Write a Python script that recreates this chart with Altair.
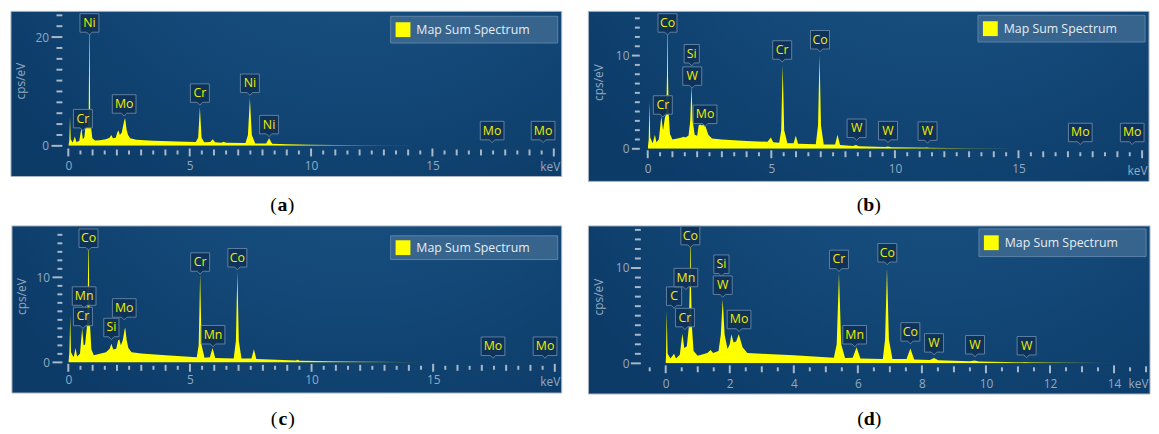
import altair as alt
import pandas as pd

# ---------------- data ----------------
# spectra: (keV, cps/eV)
A_SPEC = [(0.00,0),(0.04,1.0),(0.07,5.3),(0.10,1.2),(0.18,0.6),(0.27,1.7),(0.33,0.7),(0.45,0.9),
          (0.54,3.3),(0.60,1.2),(0.66,1.6),(0.70,3.3),(0.80,3.4),(0.84,6.0),(0.87,25),(0.90,6.0),
          (0.94,3.3),(0.99,1.4),(1.10,1.0),(1.30,1.05),(1.55,1.2),(1.70,1.5),(1.77,2.0),(1.84,1.4),
          (1.95,1.5),(2.03,2.6),(2.07,2.8),(2.12,2.0),(2.20,2.4),(2.30,4.6),(2.34,5.1),(2.40,3.0),
          (2.46,2.0),(2.55,1.4),(2.80,1.1),(3.50,0.95),(4.50,0.8),(5.25,0.7),(5.35,1.5),(5.42,7.1),
          (5.49,1.5),(5.60,0.65),(5.85,0.7),(5.95,1.2),(6.05,0.65),(6.30,0.55),(6.40,0.75),(6.50,0.55),
          (7.30,0.5),(7.40,2.0),(7.48,8.8),(7.56,2.0),(7.70,0.45),(8.15,0.45),(8.27,1.4),(8.40,0.4),
          (9.00,0.3),(10.0,0.22),(11.0,0.15),(12.0,0.1),(13.0,0.07),(14.0,0.04),(14.1,0)]
B_SPEC = [(0.00,0),(0.04,1.0),(0.07,5.1),(0.10,1.2),(0.20,0.6),(0.29,1.5),(0.35,0.7),(0.45,1.0),
          (0.55,3.5),(0.62,2.0),(0.70,3.4),(0.75,3.7),(0.78,8.0),(0.80,14.5),(0.82,8.0),(0.85,3.7),
          (0.90,1.6),(1.00,1.0),(1.20,1.1),(1.38,1.2),(1.45,1.3),(1.52,1.2),(1.65,1.4),(1.72,3.0),
          (1.77,6.8),(1.82,3.0),(1.90,1.5),(2.00,1.4),(2.06,2.5),(2.12,2.6),(2.20,2.5),(2.27,2.7),
          (2.35,2.3),(2.45,1.5),(2.60,1.1),(3.00,1.0),(4.00,0.85),(4.85,0.75),(4.98,1.2),(5.08,0.7),
          (5.32,0.65),(5.40,2.0),(5.46,9.0),(5.52,2.0),(5.65,0.6),(5.90,0.6),(5.99,1.4),(6.08,0.55),
          (6.80,0.5),(6.89,2.5),(6.95,10.1),(7.01,2.5),(7.12,0.45),(7.58,0.45),(7.68,1.5),(7.78,0.4),
          (8.30,0.3),(8.42,0.4),(8.55,0.28),(9.60,0.2),(9.72,0.25),(9.85,0.18),(11.2,0.13),(11.3,0.16),
          (11.4,0.12),(13.0,0.06),(14.5,0.02),(14.6,0)]
C_SPEC = [(0.00,0),(0.04,1.0),(0.08,5.4),(0.11,1.2),(0.22,0.6),(0.30,1.7),(0.36,0.7),(0.48,1.0),
          (0.57,4.0),(0.63,2.0),(0.69,2.1),(0.76,4.0),(0.80,8.0),(0.83,15.5),(0.86,8.0),(0.90,4.0),
          (0.95,1.5),(1.05,0.85),(1.30,1.0),(1.55,1.2),(1.70,1.6),(1.77,2.2),(1.85,1.5),(1.97,1.6),
          (2.05,2.6),(2.10,2.7),(2.16,2.0),(2.24,2.6),(2.31,3.8),(2.34,4.1),(2.40,2.6),(2.47,1.7),
          (2.60,1.2),(3.00,1.05),(4.00,0.85),(5.28,0.6),(5.36,2.0),(5.42,10.5),(5.48,2.0),(5.60,0.55),
          (5.82,0.6),(5.93,1.7),(6.04,0.5),(6.80,0.45),(6.89,2.5),(6.95,10.7),(7.01,2.5),(7.12,0.45),
          (7.53,0.45),(7.63,1.55),(7.73,0.4),(9.35,0.22),(9.43,0.3),(9.51,0.2),(11.0,0.12),(13.0,0.06),
          (14.3,0.02),(14.4,0)]
D_SPEC = [(0.00,0),(0.01,1.0),(0.03,5.5),(0.06,1.0),(0.15,0.5),(0.26,1.0),(0.32,0.5),(0.44,0.9),
          (0.52,3.1),(0.58,1.6),(0.66,1.8),(0.72,3.75),(0.75,8.0),(0.77,14.5),(0.79,8.0),(0.82,3.75),
          (0.87,1.3),(1.00,0.8),(1.30,1.1),(1.40,1.4),(1.48,1.1),(1.65,1.3),(1.72,3.0),(1.78,6.7),
          (1.84,3.0),(1.93,1.5),(2.00,2.0),(2.05,3.05),(2.12,2.2),(2.20,2.3),(2.28,3.05),(2.33,2.5),
          (2.40,1.7),(2.55,1.1),(3.00,1.0),(4.00,0.85),(5.25,0.6),(5.34,2.0),(5.41,9.5),(5.48,2.0),
          (5.60,0.55),(5.84,0.6),(5.96,1.7),(6.08,0.5),(6.78,0.45),(6.85,2.5),(6.91,10.0),(6.97,2.5),
          (7.08,0.45),(7.52,0.45),(7.64,1.55),(7.76,0.4),(8.25,0.35),(8.38,0.55),(8.51,0.32),(9.50,0.22),
          (9.64,0.3),(9.78,0.2),(11.1,0.12),(11.23,0.15),(11.36,0.11),(13.0,0.06),(14.4,0.02),(14.5,0)]

# peak labels: element, keV, label-centre height (cps/eV)
A_LBL = ["Ni", "Cr", "Mo", "Cr", "Ni", "Ni", "Mo", "Mo"]
A_LBL_E = [0.87, 0.60, 2.30, 5.42, 7.48, 8.27, 17.46, 19.56]
A_LBL_C = [22.6, 5.0, 7.7, 9.7, 11.5, 3.9, 2.8, 2.8]
B_LBL = ["Co", "Si", "W", "Cr", "Mo", "Cr", "Co", "W", "W", "W", "Mo", "Mo"]
B_LBL_E = [0.80, 1.78, 1.80, 0.61, 2.32, 5.44, 6.97, 8.45, 9.72, 11.32, 17.5, 19.6]
B_LBL_C = [13.5, 10.2, 7.8, 4.7, 3.7, 10.6, 11.7, 2.2, 1.95, 1.9, 1.75, 1.75]
C_LBL = ["Co", "Mn", "Cr", "Si", "Mo", "Cr", "Mn", "Co", "Mo", "Mo"]
C_LBL_E = [0.83, 0.65, 0.60, 1.77, 2.30, 5.42, 5.95, 6.95, 17.46, 19.6]
C_LBL_C = [14.6, 7.8, 5.4, 4.1, 6.4, 11.8, 3.25, 12.3, 1.9, 1.9]
D_LBL = ["C", "Mn", "Cr", "Co", "Si", "W", "Mo", "Cr", "Mn", "Co", "Co", "W", "W", "W"]
D_LBL_E = [0.26, 0.63, 0.60, 0.77, 1.74, 1.78, 2.29, 5.41, 5.90, 6.92, 7.64, 8.38, 9.66, 11.27]
D_LBL_C = [7.05, 9.0, 4.8, 13.4, 10.4, 8.2, 4.6, 10.9, 3.0, 11.6, 3.3, 2.15, 1.95, 1.85]

# axis tick values and labels
X_TICKS_20 = [i / 2 for i in range(0, 41)]
X_TICKS_15 = [i / 2 for i in range(-1, 31)]
X_LABELS_20 = [0, 5, 10, 15]
X_LABELS_15 = [0, 2, 4, 6, 8, 10, 12, 14]
Y_TICKS_A = list(range(0, 25, 2))
Y_TICKS_B = list(range(0, 15))
Y_TICKS_C = list(range(0, 16))
Y_TICKS_D = list(range(0, 15))
Y_LABELS_A = [0, 20]
Y_LABELS_BCD = [0, 10]
LEGEND_TEXT = "Map Sum Spectrum"

# ---------------- style ----------------
FONT = "Open Sans"
LAB = "#93a9c0"
TICK = "#a9b9c9"
BOX_FILL = {"gradient": "radial", "x1": 0.62, "y1": 0.0, "r1": 0.0, "x2": 0.62, "y2": 0.0, "r2": 0.8,
            "stops": [{"offset": 0, "color": "#215b8b"}, {"offset": 0.5, "color": "#154b7b"},
                      {"offset": 1, "color": "#0c3b68"}]}
SPEC_FILL = {"gradient": "linear", "x1": 0, "y1": 0, "x2": 1, "y2": 0,
             "stops": [{"offset": 0, "color": "#ffff00"}, {"offset": 0.68, "color": "#ffff00"},
                       {"offset": 1, "color": "#3d6e52"}]}
PATHS = {
    "L": "M-1,-0.78L1,-0.78L1,0.78L0.22,0.78L0,1.02L-0.22,0.78L-1,0.78Z",
    "M": "M-0.8,-0.78L0.8,-0.78L0.8,0.78L0.22,0.78L0,1.02L-0.22,0.78L-0.8,0.78Z",
    "S": "M-0.64,-0.78L0.64,-0.78L0.64,0.78L0.22,0.78L0,1.02L-0.22,0.78L-0.64,0.78Z",
}
KIND = {"Mo": "L", "Mn": "L", "Co": "M", "Cr": "M", "Ni": "M", "W": "M", "Si": "S", "C": "S"}


def xkind20(v):
    if v % 5 == 0:
        return 8
    if v % 1 == 0:
        return 6
    return 4


def xkind15(v):
    if v % 2 == 0:
        return 8
    if v % 1 == 0:
        return 6
    return 4


def panel(p):
    W, H = p["W"], p["H"]
    L, R, T, B = p["ext"]
    one = pd.DataFrame({"k": [0]})
    xs = alt.Scale(domain=p["xdom"], nice=False, zero=False)
    ys = alt.Scale(domain=p["ydom"], nice=False, zero=False)
    xaxis = alt.Axis(values=p["xlabels"], ticks=False, tickSize=0, domain=False, grid=False,
                     labelColor=LAB, labelFont=FONT, labelFontSize=12, labelPadding=p["xlp"],
                     labelFlush=False, title="keV", titleX=W + R - 2, titleY=p["kevy"],
                     titleAlign="right", titleBaseline="top", titleColor=LAB, titleFont=FONT,
                     titleFontSize=12, titleFontWeight="normal", zindex=1)
    yaxis = alt.Axis(values=p["ylabels"], ticks=False, tickSize=0, domain=False, grid=False,
                     labelColor=LAB, labelFont=FONT, labelFontSize=12, labelPadding=p["ylp"],
                     title="cps/eV", titleX=p["ytx"], titleY=H / 2, titleAngle=270,
                     titleAlign="center", titleBaseline="middle", titleColor=LAB, titleFont=FONT,
                     titleFontSize=12, titleFontWeight="normal", zindex=1)

    def X():
        return alt.X("E:Q", scale=xs, axis=xaxis)

    def Y():
        return alt.Y("C:Q", scale=ys, axis=yaxis)

    layers = []
    layers.append(alt.Chart(one).mark_rect(fill=BOX_FILL, stroke="#aab6c2", strokeWidth=1).encode(
        x=alt.value(-L), x2=alt.value(W + R), y=alt.value(-T), y2=alt.value(H + B)))

    # x ticks
    xt = pd.DataFrame({"E": p["xticks"]})
    xt["len"] = [p["xkind"](v) for v in p["xticks"]]
    c = p["xtc"]
    for ln in sorted(set(xt["len"])):
        layers.append(alt.Chart(xt[xt["len"] == ln]).mark_rule(color=TICK, strokeWidth=2).encode(
            x=X(), y=alt.value(H + c - ln / 2), y2=alt.value(H + c + ln / 2)))
    # y ticks
    yt = pd.DataFrame({"C": p["yticks"]})
    yt["maj"] = [v in p["ylabels"] for v in p["yticks"]]
    e = p["ytend"]
    layers.append(alt.Chart(yt[yt["maj"]]).mark_rule(color=TICK, strokeWidth=2).encode(
        y=Y(), x=alt.value(-e - p["ytmaj"]), x2=alt.value(-e)))
    layers.append(alt.Chart(yt[~yt["maj"]]).mark_rule(color=TICK, strokeWidth=2).encode(
        y=Y(), x=alt.value(-e - p["ytmin"]), x2=alt.value(-e)))

    # spectrum
    spec = pd.DataFrame(p["spec"], columns=["E", "C"])
    layers.append(alt.Chart(spec).mark_area(clip=True, fill=SPEC_FILL, interpolate="linear").encode(
        x=X(), y=Y()))

    # legend box
    lr = W + R - 4
    ll = lr - 169
    lt = p["legtop"]
    lh = p["legh"]
    layers.append(alt.Chart(one).mark_rect(fill="#3e6a92", fillOpacity=0.85, stroke="#5a82a8",
                                           strokeWidth=1).encode(
        x=alt.value(ll), x2=alt.value(lr), y=alt.value(lt), y2=alt.value(lt + lh)))
    layers.append(alt.Chart(one).mark_square(size=225, color="#ffff00", opacity=1).encode(
        x=alt.value(ll + 12.5), y=alt.value(lt + lh / 2)))
    layers.append(alt.Chart(one).mark_text(text=LEGEND_TEXT, font=FONT, fontSize=12.5, color="#e6edf3",
                                           align="left", baseline="middle").encode(
        x=alt.value(ll + 26), y=alt.value(lt + lh / 2)))

    # peak labels
    lbl = pd.DataFrame({"E": p["le"], "C": p["lc"], "name": p["names"]})
    lbl["kind"] = [KIND[n] for n in p["names"]]
    layers.append(alt.Chart(lbl).mark_point(filled=True, fill="#0e3156", fillOpacity=0.92,
                                            stroke="#5f81a2", strokeWidth=1, size=576, opacity=1).encode(
        x=X(), y=Y(),
        shape=alt.Shape("kind:N", scale=alt.Scale(domain=["L", "M", "S"],
                                                  range=[PATHS["L"], PATHS["M"], PATHS["S"]]),
                        legend=None)))
    layers.append(alt.Chart(lbl).mark_text(font=FONT, fontSize=12.5, color="#f0f000",
                                           align="center", baseline="middle").encode(
        x=X(), y=Y(), text="name:N"))

    # caption
    cx = (W + R - L) / 2 + p["capdx"]
    cy = p["capy"]
    layers.append(alt.Chart(one).mark_text(text="(", font="Liberation Serif", fontSize=20, color="#000000",
                                           align="right", baseline="alphabetic").encode(
        x=alt.value(cx - 5.5), y=alt.value(cy)))
    layers.append(alt.Chart(one).mark_text(text=p["cap"], font="Liberation Serif", fontSize=20,
                                           fontWeight="bold", color="#000000", align="center",
                                           baseline="alphabetic").encode(
        x=alt.value(cx), y=alt.value(cy)))
    layers.append(alt.Chart(one).mark_text(text=")", font="Liberation Serif", fontSize=20, color="#000000",
                                           align="left", baseline="alphabetic").encode(
        x=alt.value(cx + 5.5), y=alt.value(cy)))

    return alt.layer(*layers).properties(width=W, height=H)


PA = dict(spec=A_SPEC, names=A_LBL, le=A_LBL_E, lc=A_LBL_C, xdom=[0, 20], ydom=[0, 24], W=491, H=132,
          ext=(58, 8, 4, 31), xticks=X_TICKS_20, xkind=xkind20, xtc=6.7, xlabels=X_LABELS_20, xlp=15,
          kevy=16, ylabels=Y_LABELS_A, yticks=Y_TICKS_A, ytend=6, ytmaj=11, ytmin=6, ylp=20, ytx=-48,
          legtop=1, legh=27, cap="a", capy=198, capdx=-4)
PB = dict(spec=B_SPEC, names=B_LBL, le=B_LBL_E, lc=B_LBL_C, xdom=[0, 20], ydom=[0, 14.32], W=500, H=135,
          ext=(60, 7, 4, 33), xticks=X_TICKS_20, xkind=xkind20, xtc=5.5, xlabels=X_LABELS_20, xlp=15,
          kevy=17, ylabels=Y_LABELS_BCD, yticks=Y_TICKS_B, ytend=8, ytmaj=8, ytmin=5, ylp=19, ytx=-50,
          legtop=0, legh=27, cap="b", capy=198, capdx=0)
PC = dict(spec=C_SPEC, names=C_LBL, le=C_LBL_E, lc=C_LBL_C, xdom=[0, 20], ydom=[0, 15.58], W=492, H=134,
          ext=(57, 7, 4, 31), xticks=X_TICKS_20, xkind=xkind20, xtc=5.5, xlabels=X_LABELS_20, xlp=12,
          kevy=14, ylabels=Y_LABELS_BCD, yticks=Y_TICKS_C, ytend=6, ytmaj=10, ytmin=5, ylp=19, ytx=-47,
          legtop=6, legh=24, cap="c", capy=197, capdx=-4)
PD = dict(spec=D_SPEC, names=D_LBL, le=D_LBL_E, lc=D_LBL_C, xdom=[-0.5, 15], ydom=[0, 14], W=502, H=135,
          ext=(62, 4, 4, 31), xticks=X_TICKS_15, xkind=xkind15, xtc=6, xlabels=X_LABELS_15, xlp=15,
          kevy=15, ylabels=Y_LABELS_BCD, yticks=Y_TICKS_D, ytend=9, ytmaj=10, ytmin=6, ylp=21, ytx=-52,
          legtop=-1, legh=28, cap="d", capy=197, capdx=0)

chart = alt.vconcat(
    alt.hconcat(panel(PA), panel(PB), spacing=25),
    alt.hconcat(panel(PC), panel(PD), spacing=25),
    spacing=9,
).properties(
    padding={"left": 2, "top": 0, "right": 0, "bottom": 0},
    background="white",
).configure_view(stroke=None)

chart.save("out.html", embed_options={"renderer": "svg", "actions": False})
